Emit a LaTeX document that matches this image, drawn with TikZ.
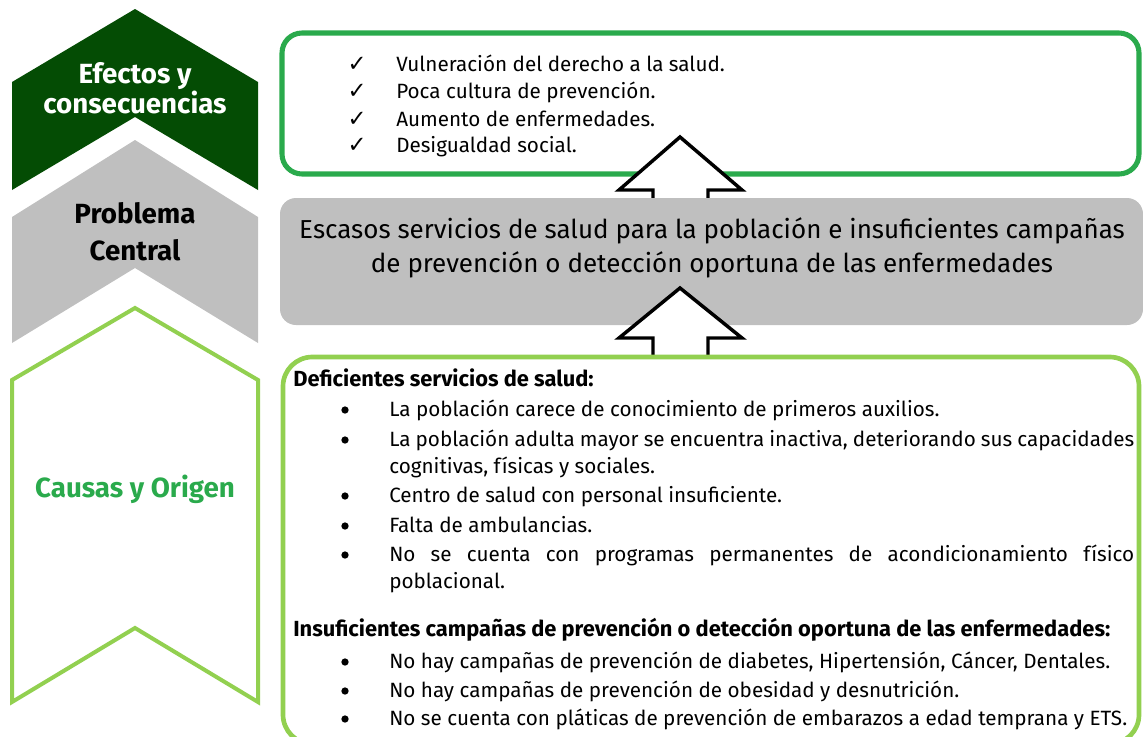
\documentclass[tikz,border=0pt]{standalone}
\usepackage{fontspec}
\setmainfont{Fira Sans}
\newfontfamily\simbolos{DejaVu Sans}
\definecolor{verdeoscuro}{RGB}{4,76,4}
\definecolor{verdemedio}{RGB}{42,170,76}
\definecolor{verdeclaro}{RGB}{146,208,80}
\definecolor{grisclaro}{RGB}{191,191,191}

\begin{document}
\begin{tikzpicture}[x=0.75pt, y=-0.75pt,
        etiqueta/.style={font=\fontsize{20.8}{24}\selectfont\bfseries, inner sep=0, anchor=base},
        renglon/.style={font=\fontsize{15.5}{18}\selectfont, inner sep=0, anchor=base west},
        encabezado/.style={font=\fontsize{16.4}{19}\selectfont\bfseries, inner sep=0, anchor=base west},
        vineta/.style={circle, fill=black, inner sep=0, minimum size=5.5pt},
        palomita/.style={font=\simbolos\fontsize{17}{20}\selectfont, inner sep=0, anchor=base},
        problema/.style={font=\fontsize{19.5}{22}\selectfont, inner sep=0, anchor=base},
        flecha/.style={draw=black, fill=white, line width=2.6pt, miter limit=10}
    ]
    \useasboundingbox (0,0) rectangle (1143,736);
    \clip (0,0) rectangle (1143,736);

    % Chevrones
    \fill[verdeoscuro] (12,82) -- (135,9) -- (258,82) -- (258,190) -- (135,117) -- (12,190) -- cycle;
    \fill[grisclaro] (12,217) -- (135,140) -- (258,217) -- (258,343) -- (135,268) -- (12,343) -- cycle;
    \draw[verdeclaro, line width=3pt] (12,380) -- (135,308) -- (258,380) -- (258,702) -- (135,628) -- (12,702) -- cycle;

    \node[etiqueta, white] (efectos1) at (135,83) {Efectos y};
    \node[etiqueta, white] (efectos2) at (135,113) {consecuencias};
    \node[etiqueta, black] (problema1) at (135,223) {Problema};
    \node[etiqueta, black] (problema2) at (135,260) {Central};
    \node[etiqueta, verdemedio] (causas) at (135,497) {Causas y Origen};

    % Caja de efectos
    \draw[verdemedio, line width=3.8pt, rounded corners=15pt] (282,33) rectangle (1139,174);

    % Flecha superior
    \coordinate (baseA) at (680,202);
    \draw[flecha] (baseA) ++(-27,0) -- ++(0,-12) -- ++(-34,0) -- (680,137) -- (742,190) -- (708,190) -- ++(0,12);

    % Caja del problema central
    \fill[grisclaro, rounded corners=12pt] (280,198) rectangle (1143,325);

    % Flecha inferior
    \coordinate (baseB) at (680,362);
    \draw[flecha] (baseB) ++(-27,0) -- ++(0,-24) -- ++(-34,0) -- (680,288) -- (742,338) -- (708,338) -- ++(0,24);

    % Caja de causas
    \draw[verdeclaro, line width=3.5pt, fill=white, rounded corners=22pt] (283,357) rectangle (1139,744);

    % Efectos
    \foreach \y/\texto [count=\i] in {71/Vulneración del derecho a la salud.,
            98/Poca cultura de prevención.,
            126/Aumento de enfermedades.,
            152/Desigualdad social.} {
        \node[palomita] (check\i) at (357,\y) {✓};
        \node[renglon] (efecto\i) at (396,\y) {\texto};
    }

    % Problema central
    \node[problema] (central1) at (712,238) {Escasos servicios de salud para la población e insuficientes campañas};
    \node[problema] (central2) at (712,272) {de prevención o detección oportuna de las enfermedades};

    % Causas
    \node[encabezado] (titulo1) at (293,386) {Deficientes servicios de salud:};
    \foreach \y [count=\i] in {416,446,502,532,561} {
        \node[vineta] (bala\i) at (345,\y-6) {};
    }
    \node[renglon] (causa1) at (389,416) {La población carece de conocimiento de primeros auxilios.};
    \node[renglon] (causa2) at (389,446) {\makebox[745\dimexpr0.75pt][s]{La población adulta mayor se encuentra inactiva, deteriorando sus capacidades}};
    \node[renglon] (causa2b) at (389,473) {cognitivas, físicas y sociales.};
    \node[renglon] (causa3) at (389,502) {Centro de salud con personal insuficiente.};
    \node[renglon] (causa4) at (389,532) {Falta de ambulancias.};
    \node[renglon] (causa5) at (389,561) {\makebox[745\dimexpr0.75pt][s]{No se cuenta con programas permanentes de acondicionamiento físico}};
    \node[renglon] (causa5b) at (389,588) {poblacional.};

    \node[encabezado] (titulo2) at (293,636) {Insuficientes campañas de prevención o detección oportuna de las enfermedades:};
    \foreach \y/\texto [count=\i] in {668/{No hay campañas de prevención de diabetes, Hipertensión, Cáncer, Dentales.},
            697/No hay campañas de prevención de obesidad y desnutrición.,
            725/No se cuenta con pláticas de prevención de embarazos a edad temprana y ETS.} {
        \node[vineta] (punto\i) at (345,\y-6) {};
        \node[renglon] (campana\i) at (389,\y) {\texto};
    }
\end{tikzpicture}
\end{document}
